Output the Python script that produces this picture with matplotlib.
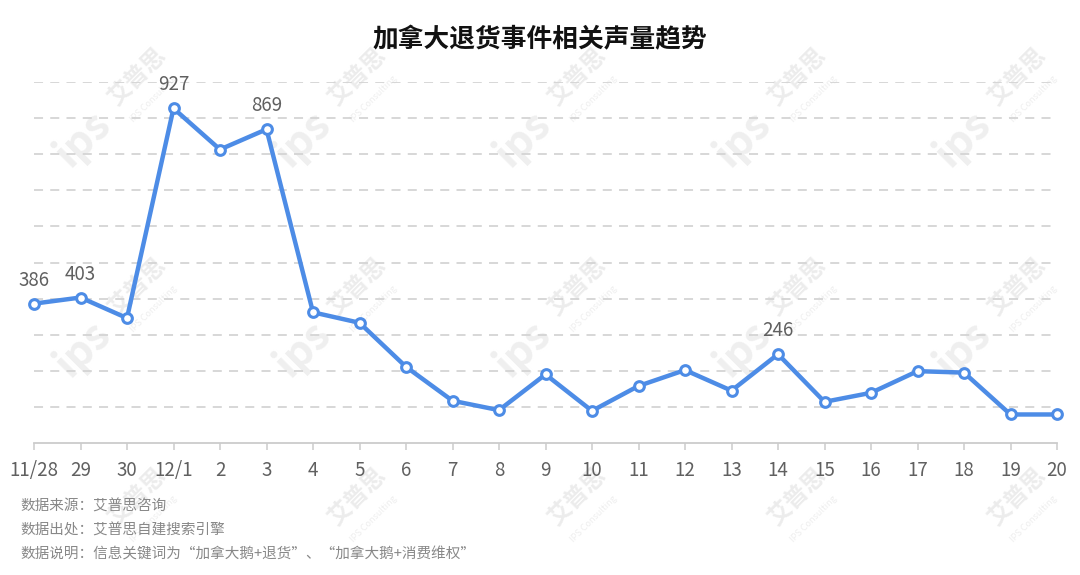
import matplotlib
matplotlib.use("Agg")
import matplotlib.pyplot as plt

plt.rcParams['font.family'] = ['Noto Sans CJK SC', 'DejaVu Sans']

title = "加拿大退货事件相关声量趋势"
categories = ["11/28", "29", "30", "12/1", "2", "3", "4", "5", "6", "7", "8", "9",
              "10", "11", "12", "13", "14", "15", "16", "17", "18", "19", "20"]
values = [386, 403, 346, 927, 813, 869, 362, 333, 211, 117, 91, 190,
          89, 158, 202, 145, 246, 114, 139, 199, 195, 79, 79]
labeled_idx = [0, 1, 3, 5, 16]
notes = ["数据来源：艾普思咨询",
         "数据出处：艾普思自建搜索引擎",
         "数据说明：信息关键词为“加拿大鹅+退货”、“加拿大鹅+消费维权”"]
wm_cols = [137, 357, 577, 797, 1017]
wm_rows = [77, 287, 497]

W, H = 1080, 575
fig = plt.figure(figsize=(W / 100, H / 100), dpi=100)

# faint watermarks (drawn beneath the chart)
for xc in wm_cols:
    for yc in wm_rows:
        fig.text(xc / W, 1 - yc / H, "艾普思", rotation=45, ha='center', va='center',
                 fontsize=17, fontweight='bold', color='#ececec', zorder=-5)
        fig.text((xc + 17) / W, 1 - (yc + 22) / H, "IPS Consulting", rotation=45,
                 ha='center', va='center', fontsize=6.5, color='#eeeeee', zorder=-5)
        if yc + 90 < H:
            fig.text((xc - 55) / W, 1 - (yc + 62) / H, "ips", rotation=45, ha='center',
                     va='center', fontsize=30, fontweight='bold', fontstyle='italic',
                     color='#efefef', zorder=-5)

ax = fig.add_axes([34 / W, 1 - 443 / H, (1057 - 34) / W, (443 - 82) / H])
ax.set_zorder(2)
ax.patch.set_alpha(0)

x = list(range(len(categories)))
ax.set_xlim(0, len(categories) - 1)
ax.set_ylim(0, 1000)
ax.set_yticks(range(100, 1001, 100))
ax.yaxis.grid(True, color='#d4d4d4', linestyle=(0, (5, 4)), linewidth=1.3)
ax.set_axisbelow(True)
ax.tick_params(axis='y', left=False, labelleft=False)
for s in ['top', 'right', 'left']:
    ax.spines[s].set_visible(False)
ax.spines['bottom'].set_color('#cccccc')
ax.spines['bottom'].set_linewidth(1.3)
ax.spines['bottom'].set_zorder(0.5)
ax.set_xticks(x)
ax.set_xticklabels(categories, fontsize=13.5, color='#606060', fontweight='light')
ax.tick_params(axis='x', length=5, width=1.1, color='#cccccc', pad=7)

ax.plot(x, values, color='#4d8ce6', linewidth=3.2, marker='o', markersize=7,
        markerfacecolor='white', markeredgecolor='#4d8ce6', markeredgewidth=2.2,
        clip_on=False, zorder=3)

for i in labeled_idx:
    ax.annotate(str(values[i]), (x[i], values[i]), xytext=(0, 18),
                textcoords='offset pixels', ha='center', va='baseline',
                fontsize=13.5, color='#606060', fontweight='light')

fig.text(540 / W, 1 - 40 / H, title, ha='center', va='center',
         fontsize=18.5, fontweight='bold', color='#111111', zorder=3)

for k, t in enumerate(notes):
    fig.text(20 / W, 1 - (507 + 23.5 * k) / H, t, ha='left', va='center',
             fontsize=10.5, color='#888888', fontweight='light', zorder=3)

fig.savefig("out.png", dpi=100, facecolor='white')
